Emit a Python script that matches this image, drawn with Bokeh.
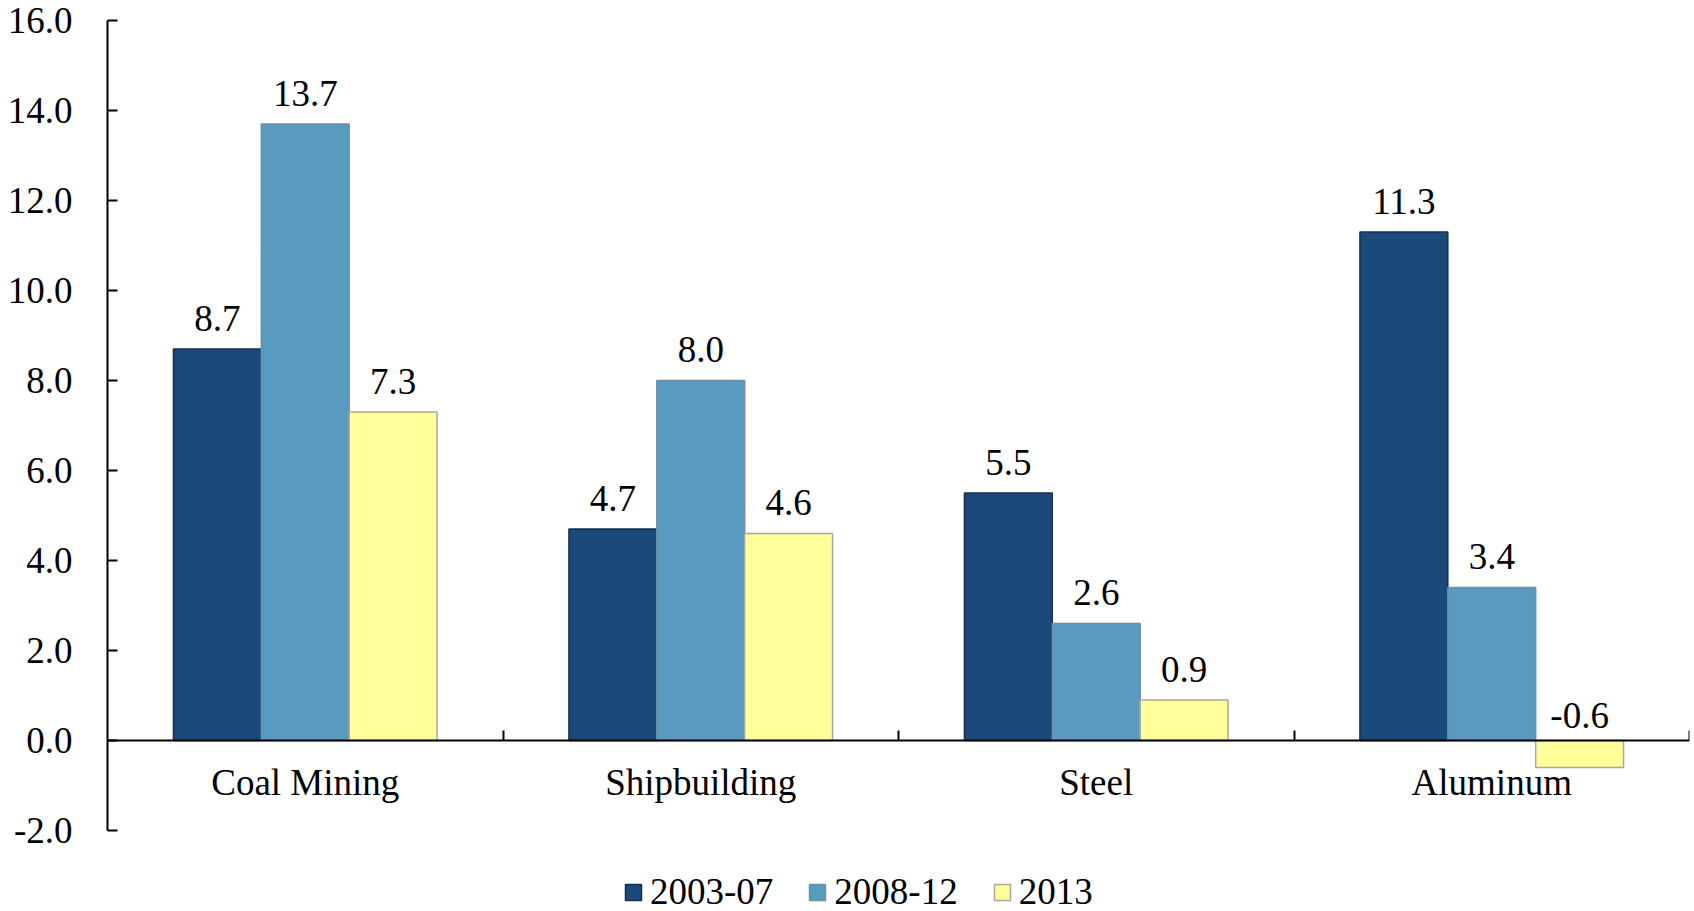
from bokeh.plotting import figure
from bokeh.models import (Range1d, LinearAxis, FixedTicker, NumeralTickFormatter,
                          ColumnDataSource, Legend, LegendItem)
from bokeh.core.properties import value
from bokeh.transform import dodge
from bokeh.embed import file_html
from bokeh.resources import INLINE

# Annual growth by industry and period
categories = ["Coal Mining", "Shipbuilding", "Steel", "Aluminum"]
periods = ["2003-07", "2008-12", "2013"]
values_2003_07 = [8.7, 4.7, 5.5, 11.3]
values_2008_12 = [13.7, 8.0, 2.6, 3.4]
values_2013 = [7.3, 4.6, 0.9, -0.6]
y_ticks = [-2, 0, 2, 4, 6, 8, 10, 12, 14, 16]

series = [values_2003_07, values_2008_12, values_2013]
fills = ["#1A4A7A", "#589BBF", "#FFFF99"]
outlines = ["#15314F", "#6E8FA6", "#A8A8A8"]
offsets = [-0.2222, 0.0, 0.2222]
FONT = "Liberation Serif"
FONT_SIZE = "37px"

n = len(categories)
centers = [i + 0.5 for i in range(n)]          # slot centre of each category
edges = [i + 1 for i in range(n)]              # right boundary of each slot

p = figure(width=1694, height=911,
           x_range=Range1d(0, n), y_range=Range1d(-3.8, 16),
           output_backend="svg", toolbar_location=None,
           min_border_left=107, min_border_right=5, min_border_top=20, min_border_bottom=0,
           x_axis_location=None, y_axis_location=None)
p.grid.visible = False
p.outline_line_color = None
p.background_fill_color = "white"

# Value axis, drawn from -2 to 16 only
yaxis = LinearAxis(ticker=FixedTicker(ticks=y_ticks), formatter=NumeralTickFormatter(format="0.0"),
                   bounds=(-2, 16))
yaxis.major_tick_in = 10
yaxis.major_tick_out = 0
yaxis.minor_tick_line_color = None
yaxis.axis_line_width = 2
yaxis.major_tick_line_width = 2
yaxis.axis_line_color = "black"
yaxis.major_tick_line_color = "black"
yaxis.major_label_text_font = FONT
yaxis.major_label_text_font_size = FONT_SIZE
yaxis.major_label_text_color = "black"
yaxis.major_label_standoff = 35
p.add_layout(yaxis, "left")

# Zero line with a short tick at every category boundary
edge_axis = LinearAxis(ticker=FixedTicker(ticks=edges), fixed_location=0)
edge_axis.major_tick_in = 10
edge_axis.major_tick_out = 0
edge_axis.minor_tick_line_color = None
edge_axis.major_label_text_font_size = "0px"
edge_axis.major_label_text_color = None
edge_axis.axis_line_width = 2
edge_axis.major_tick_line_width = 2
edge_axis.axis_line_color = "black"
edge_axis.major_tick_line_color = "black"
p.add_layout(edge_axis, "below")

# Category names under the zero line
cat_axis = LinearAxis(ticker=FixedTicker(ticks=centers), fixed_location=0,
                      major_label_overrides={c: name for c, name in zip(centers, categories)})
cat_axis.axis_line_color = None
cat_axis.major_tick_line_color = None
cat_axis.minor_tick_line_color = None
cat_axis.major_label_text_font = FONT
cat_axis.major_label_text_font_size = FONT_SIZE
cat_axis.major_label_text_color = "black"
cat_axis.major_label_standoff = 15
p.add_layout(cat_axis, "below")

renderers = []
for vals, fc, lc, off, name in zip(series, fills, outlines, offsets, periods):
    src = ColumnDataSource(dict(
        pos=centers,
        val=vals,
        ly=[max(v, 0) for v in vals],
        lo=[-31 if v >= 0 else -25 for v in vals],
        txt=[f"{v:.1f}" for v in vals],
    ))
    r = p.vbar(x=dodge("pos", off), top="val", bottom=0, width=0.2222,
               source=src, fill_color=fc, line_color=lc, line_width=1.5)
    renderers.append((name, r))
    p.text(x=dodge("pos", off), y="ly", text="txt", y_offset="lo", source=src,
           text_align="center", text_baseline="alphabetic", text_font=value(FONT),
           text_font_size=FONT_SIZE, text_color="black")

legend = Legend(items=[LegendItem(label=name, renderers=[r]) for name, r in renderers],
                orientation="horizontal", location=(516, -2))
legend.glyph_width = 20
legend.glyph_height = 20
legend.label_standoff = 7
legend.spacing = 34
legend.padding = 0
legend.margin = 0
legend.border_line_color = None
legend.background_fill_alpha = 0
legend.label_text_font = FONT
legend.label_text_font_size = FONT_SIZE
legend.label_text_color = "black"
p.add_layout(legend, "center")

open("out.html", "w").write(file_html(p, INLINE))
